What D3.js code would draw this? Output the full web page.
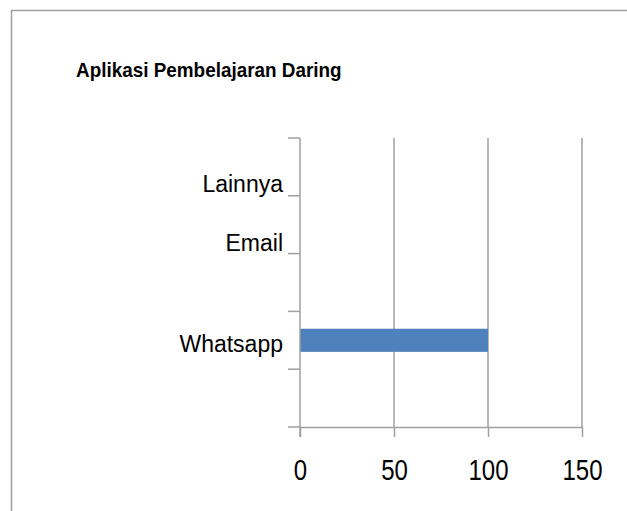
<!DOCTYPE html>
<html>
<head>
<meta charset="utf-8">
<script src="https://cdn.jsdelivr.net/npm/d3@7"></script>
<style>
  body { margin: 0; background: #fff; }
  svg { display: block; }
</style>
</head>
<body>
<div id="chart"></div>
<script>
const width = 627;
const height = 511;

// data, bottom to top (empty labels are hidden categories)
const categories = ["", "Whatsapp", "", "Email", "Lainnya"];
const values = [0, 100, 0, 0, 0];
const xTicks = [0, 50, 100, 150];
const title = "Aplikasi Pembelajaran Daring";

// Excel drops some labels a bit lower than the band centre
const labelShift = { "Lainnya": 17, "Email": 18, "Whatsapp": 3 };

const plot = { left: 300, right: 582, top: 138, bottom: 427 };
const gridColor = "#a0a0a0";

const svg = d3.select('#chart')
    .append("svg")
    .attr('width', width)
    .attr('height', height);

// outer frame (only top and left edge are visible)
svg.append("path")
    .attr("d", `M11.5,${height} V10.5 H${width}`)
    .style("fill", "none")
    .style("stroke", "#a0a0a0")
    .style("stroke-width", 1.5);

svg.append("text")
    .attr("transform", "translate(76,77) scale(0.9,1)")
    .style("font-family", "'Liberation Sans', Arial, sans-serif")
    .style("font-weight", "bold")
    .style("font-size", "21px")
    .text(title);

const x = d3.scaleLinear()
    .domain([0, 150])
    .range([plot.left, plot.right]);

const y = d3.scaleBand()
    .domain(d3.range(categories.length))
    .range([plot.bottom, plot.top])
    .paddingInner(0);

// vertical gridlines
svg.selectAll(".grid")
    .data(xTicks.slice(1))
    .enter()
    .append("line")
    .attr("class", "grid")
    .attr("x1", d => x(d))
    .attr("x2", d => x(d))
    .attr("y1", plot.top)
    .attr("y2", plot.bottom)
    .style("stroke", gridColor)
    .style("stroke-width", 1.5);

// bars
const barH = y.bandwidth() * 0.4;
svg.selectAll(".bar")
    .data(values)
    .enter()
    .append("rect")
    .attr("class", "bar")
    .attr("x", x(0))
    .attr("y", (d, i) => y(i) + (y.bandwidth() - barH) / 2)
    .attr("width", d => x(d) - x(0))
    .attr("height", barH)
    .style("fill", "#4f81bd");

// y axis line + category boundary ticks
const bounds = d3.range(categories.length + 1).map(i => i === categories.length ? plot.top : y(i) + y.bandwidth());
svg.append("line")
    .attr("x1", x(0)).attr("x2", x(0))
    .attr("y1", plot.top).attr("y2", plot.bottom + 10)
    .style("stroke", gridColor)
    .style("stroke-width", 1.5);

svg.selectAll(".ytick")
    .data(bounds)
    .enter()
    .append("line")
    .attr("class", "ytick")
    .attr("x1", x(0) - 12)
    .attr("x2", x(0))
    .attr("y1", d => d)
    .attr("y2", d => d)
    .style("stroke", gridColor)
    .style("stroke-width", 1.5);

// x axis
const xAxis = svg.append("g")
    .attr("transform", `translate(0,${plot.bottom})`)
    .call(d3.axisBottom(x).tickValues(xTicks).tickSize(10).tickSizeOuter(0).tickPadding(22));

xAxis.select(".domain").style("stroke", gridColor).style("stroke-width", 1.5);
xAxis.selectAll(".tick line").style("stroke", gridColor).style("stroke-width", 1.5);
xAxis.selectAll(".tick text")
    .attr("dy", "0.71em")
    .attr("transform", "scale(0.8,1)")
    .style("font-family", "'Liberation Sans', Arial, sans-serif")
    .style("font-size", "30px")
    .style("fill", "#000");

// category labels
svg.selectAll(".cat")
    .data(categories)
    .enter()
    .append("text")
    .attr("class", "cat")
    .attr("x", x(0) - 17)
    .attr("y", (d, i) => y(i) + y.bandwidth() / 2 + (labelShift[d] || 0))
    .attr("dy", "0.36em")
    .attr("text-anchor", "end")
    .style("font-family", "'Liberation Sans', Arial, sans-serif")
    .style("font-size", "23px")
    .style("fill", "#000")
    .text(d => d);
</script>
</body>
</html>
